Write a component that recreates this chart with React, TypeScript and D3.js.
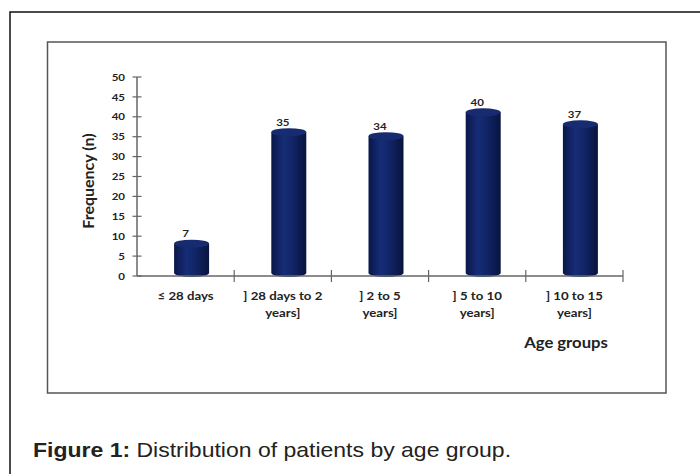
import React from "react";
import * as d3 from "d3";

const categories: string[][] = [
  ["≤ 28 days"],
  ["] 28 days to 2", "years]"],
  ["] 2 to 5", "years]"],
  ["] 5 to 10", "years]"],
  ["] 10 to 15", "years]"],
];
const values: number[] = [7, 35, 34, 40, 37];
const yTicks: number[] = [0, 5, 10, 15, 20, 25, 30, 35, 40, 45, 50];
const yLabel = "Frequency (n)";
const xLabel = "Age groups";
const captionBold = "Figure 1:";
const captionText = " Distribution of patients by age group.";

const W = 700;
const H = 474;
const x0 = 137;
const x1 = 623;
const yBase = 276;
const yTop = 77;
const SX = 1.15;

function T(props: {
  x: number;
  y: number;
  anchor?: string;
  size: number;
  weight?: number;
  family?: string;
  children: React.ReactNode;
}) {
  const { x, y, anchor = "middle", size, weight = 700, family = "Lato, 'Open Sans', sans-serif", children } = props;
  return (
    <text
      transform={`translate(${x},${y}) scale(${SX},1)`}
      textAnchor={anchor}
      fontFamily={family}
      fontWeight={weight}
      fontSize={size}
      fill="#222"
    >
      {children}
    </text>
  );
}

export default function App() {
  const idx = categories.map((_, i) => String(i));
  const x = d3.scaleBand<string>().domain(idx).range([x0, x1]).paddingInner(0.64).paddingOuter(0.32);
  const step = x.step();
  const y = d3.scaleLinear().domain([0, 50]).range([yBase, yTop]);
  const bw = x.bandwidth();
  const dx = 6;
  const font = "Lato, 'Open Sans', sans-serif";
  const boundaries = idx.map((_, i) => x0 + step * (i + 1));

  return (
    <svg
      width={W}
      height={H}
      style={{ position: "absolute", left: 0, top: 0, background: "#fff" }}
    >
      <defs>
        <linearGradient id="cyl" x1="0" x2="1" y1="0" y2="0">
          <stop offset="0" stopColor="#091748" />
          <stop offset="0.35" stopColor="#162c76" />
          <stop offset="0.6" stopColor="#112566" />
          <stop offset="1" stopColor="#08133e" />
        </linearGradient>
      </defs>
      <rect x={0} y={0} width={W} height={H} fill="#fff" />
      <rect x={10} y={12} width={W} height={H} fill="none" stroke="#111" strokeWidth={1.5} />
      <rect x={47.5} y={42} width={618.5} height={351} fill="#fff" stroke="#555" strokeWidth={1.5} />

      {/* bars */}
      {values.map((v, i) => {
        const cx = (x(String(i)) as number) + bw / 2 + dx;
        const left = cx - bw / 2;
        const topC = y(v) - 4.5;
        const botC = yBase - 3;
        const rx = bw / 2;
        const ry = 4;
        const d = `M${left},${topC} L${left},${botC} A${rx},${ry} 0 0 0 ${left + bw},${botC} L${left + bw},${topC} Z`;
        return (
          <g key={i}>
            <path d={d} fill="url(#cyl)" />
            <ellipse cx={cx} cy={topC} rx={rx} ry={ry} fill="#172b70" />
          </g>
        );
      })}

      {/* axes */}
      <line x1={x0} x2={x0} y1={yTop} y2={yBase} stroke="#666" strokeWidth={1.5} />
      <line x1={x0} x2={x1} y1={yBase} y2={yBase} stroke="#666" strokeWidth={1.5} />
      {yTicks.map((t) => (
        <g key={t}>
          <line x1={x0 - 4.5} x2={x0 + 4.5} y1={y(t)} y2={y(t)} stroke="#666" strokeWidth={1.2} />
          <T x={125} y={y(t) + 3.6} anchor="end" size={10}>
            {t}
          </T>
        </g>
      ))}
      {boundaries.map((b, i) => (
        <line key={i} x1={b} x2={b} y1={yBase - 6} y2={yBase + 6} stroke="#666" strokeWidth={1.2} />
      ))}

      {/* value labels */}
      {values.map((v, i) => (
        <T key={i} x={(x(String(i)) as number) + bw / 2} y={y(v) - 11} size={10}>
          {v}
        </T>
      ))}

      {/* category labels */}
      {categories.map((lines, i) =>
        lines.map((l, j) => (
          <T key={`${i}-${j}`} x={(x(String(i)) as number) + bw / 2} y={300 + j * 16.5} size={11.5}>
            {l}
          </T>
        ))
      )}

      <T x={566} y={348} size={14.5}>
        {xLabel}
      </T>
      <text
        transform={`translate(94,181) rotate(-90)`}
        textAnchor="middle"
        fontFamily={font}
        fontWeight={700}
        fontSize={16}
        fill="#222"
      >
        {yLabel}
      </text>

      <T x={33} y={457} anchor="start" size={20} weight={400} family="'Liberation Sans', Arial, sans-serif">
        <tspan fontWeight={700}>{captionBold}</tspan>
        <tspan>{captionText}</tspan>
      </T>
    </svg>
  );
}
